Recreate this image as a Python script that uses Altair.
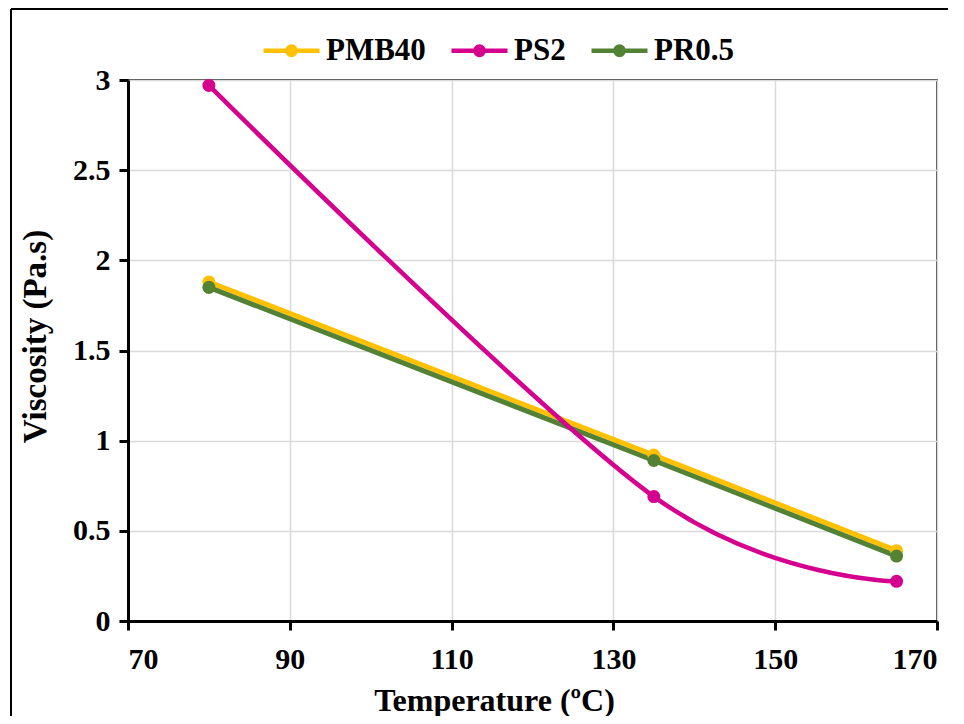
import altair as alt
import pandas as pd

temps = [80, 135, 165]
pmb40 = [1.88, 0.92, 0.39]
ps2 = [2.97, 0.69, 0.22]
pr05 = [1.85, 0.89, 0.36]
series = ["PMB40", "PS2", "PR0.5"]
colors = ["#FFC000", "#D6008F", "#548235"]
x_ticks = [70, 90, 110, 130, 150, 170]
y_ticks = [0, 0.5, 1, 1.5, 2, 2.5, 3]

rows = []
for name, vals in zip(series, [pmb40, ps2, pr05]):
    for t, v in zip(temps, vals):
        rows.append({"Temperature": t, "Viscosity": v, "Series": name})
df = pd.DataFrame(rows)

FONT = "Liberation Serif"
W, H = 809, 541
PL, PT, PR, PB = 120, 72, 11, 95

xenc = alt.X("Temperature:Q", scale=alt.Scale(domain=[70, 170], nice=False),
             axis=alt.Axis(values=x_ticks, title="Temperature (ºC)", titleFontSize=32,
                           titleX=366, titleY=64, labelPadding=14))
yenc = alt.Y("Viscosity:Q", scale=alt.Scale(domain=[0, 3], nice=False),
             axis=alt.Axis(values=y_ticks, title="Viscosity (Pa.s)", labelExpr="datum.value + ''",
                           titleFontSize=33, titleX=-76, titleY=256, labelPadding=9))
cscale = alt.Scale(domain=series, range=colors)

sym_path = "M-1,0L1,0M-0.15,0A0.15,0.15,0,1,1,0.15,0A0.15,0.15,0,1,1,-0.15,0Z"
leg = alt.Legend(orient="none", legendX=133, legendY=-60, direction="horizontal",
                 symbolType=sym_path, symbolSize=3136, symbolStrokeWidth=4.5, symbolOpacity=1,
                 labelFont=FONT, labelFontSize=31, labelFontWeight="bold",
                 labelColor="black", labelOffset=4, columnPadding=16)

lin = alt.Chart(df).transform_filter(alt.datum.Series != "PS2").mark_line(strokeWidth=5).encode(
    x=xenc, y=yenc, stroke=alt.Stroke("Series:N", scale=cscale, title=None, legend=leg))
smooth = alt.Chart(df).transform_filter(alt.datum.Series == "PS2").mark_line(
    strokeWidth=4.5, interpolate="cardinal").encode(
    x=xenc, y=yenc, stroke=alt.Stroke("Series:N", scale=cscale, title=None, legend=leg))
pts = alt.Chart(df).mark_circle(size=170, opacity=1).encode(
    x=xenc, y=yenc,
    fill=alt.Fill("Series:N", scale=cscale, title=None, legend=leg))

frame_df = pd.DataFrame({"a": [0]})
frame_left = alt.Chart(frame_df).mark_rule(color="black", strokeWidth=2).encode(
    x=alt.value(-117), y=alt.value(-71), y2=alt.value(H + PB))
frame_top = alt.Chart(frame_df).mark_rule(color="black", strokeWidth=2).encode(
    x=alt.value(-117), x2=alt.value(W + PR), y=alt.value(-71))

chart = alt.layer(frame_left, frame_top, lin, smooth, pts).properties(
    width=W, height=H,
    background="white",
    autosize=alt.AutoSizeParams(type="none"),
    padding={"left": PL, "top": PT, "right": PR, "bottom": PB},
).configure_view(stroke="black", strokeWidth=1.5).configure_axis(
    labelFont=FONT, labelFontSize=30, labelFontWeight="bold", labelColor="black",
    titleFont=FONT, titleFontWeight="bold", titleColor="black",
    domainColor="black", domainWidth=3, tickColor="black", tickWidth=3, tickSize=9,
    gridColor="#d9d9d9", gridWidth=1.5,
)

chart.save("out.html", embed_options={"renderer": "svg", "actions": False})
